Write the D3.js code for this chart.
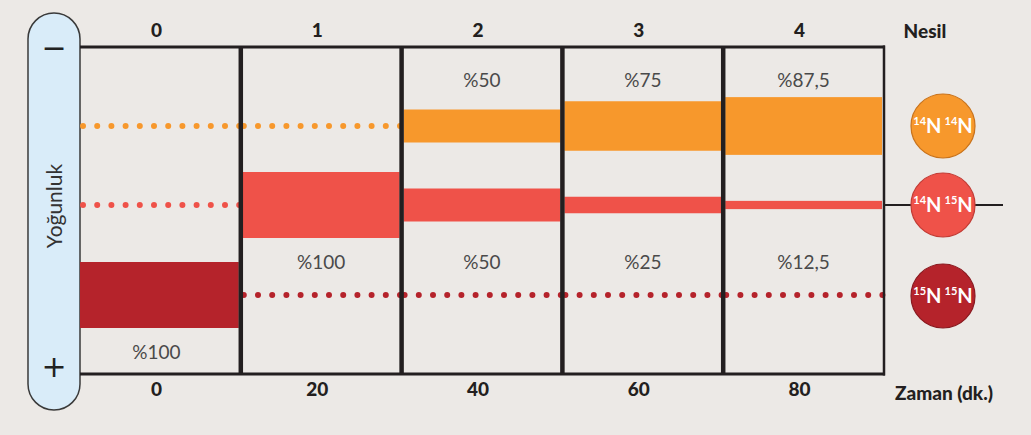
<!DOCTYPE html>
<html><head><meta charset="utf-8">
<script src="https://cdn.jsdelivr.net/npm/d3@7"></script>
<style>
html,body{margin:0;padding:0;background:#ece9e6;}
svg{display:block;}
</style></head>
<body>
<svg id="chart" width="1031" height="435"></svg>
<script>
// ---- data ----
const generations = ["0","1","2","3","4"];
const times = ["0","20","40","60","80"];
const types = ["14N14N","14N15N","15N15N"];
const light = [0, 0, 50, 75, 87.5];      // 14N 14N
const hybrid = [0, 100, 50, 25, 12.5];   // 14N 15N
const heavy = [100, 0, 0, 0, 0];         // 15N 15N
const axisTitleTop = "Nesil";
const axisTitleBottom = "Zaman (dk.)";
const yTitle = "Yoğunluk";

const colors = {"14N14N":"#f7982c","14N15N":"#ef5249","15N15N":"#b5232b"};
const strokeCol = {"14N14N":"#c8731c","14N15N":"#c23c35","15N15N":"#8a1a20"};
const series = [
  {type:"14N14N", values: light, labelOffset:-46},
  {type:"14N15N", values: hybrid, labelOffset:57},
  {type:"15N15N", values: heavy, labelOffset:57}
];

const svg = d3.select("#chart");
const pLeft = 80, pRight = 884, pTop = 47, pBottom = 374;
const font = "Lato, 'DejaVu Sans Condensed', sans-serif";

const x = d3.scaleBand().domain(generations).range([pLeft, pRight]).padding(0);
const yPos = d3.scaleOrdinal().domain(types).range([126, 205, 295]);
const h = d3.scaleLinear().domain([0, 100]).range([0, 66]);

// pill
svg.append("rect").attr("x",28).attr("y",13).attr("width",52).attr("height",397)
  .attr("rx",26).attr("ry",26).attr("fill","#d9ecf9").attr("stroke","#3a3a3a").attr("stroke-width",1.5);
svg.append("text").attr("x",54).attr("y",58).attr("text-anchor","middle")
  .attr("font-family","DejaVu Sans, sans-serif").attr("font-size",30).attr("fill","#222").text("−");
svg.append("text").attr("x",54).attr("y",377).attr("text-anchor","middle")
  .attr("font-family","DejaVu Sans, sans-serif").attr("font-size",30).attr("fill","#222").text("+");
svg.append("text").attr("transform","translate(62,206) rotate(-90)").attr("text-anchor","middle")
  .attr("font-family",font).attr("font-size",21).attr("fill","#333").text(yTitle);

// dotted guide lines where value is zero
series.forEach(s => {
  s.values.forEach((v,i) => {
    if (v === 0) {
      const g = generations[i];
      svg.append("line")
        .attr("x1", x(g) + 3).attr("x2", x(g) + x.bandwidth())
        .attr("y1", yPos(s.type)).attr("y2", yPos(s.type))
        .attr("stroke", colors[s.type]).attr("stroke-width", 6)
        .attr("stroke-linecap","round").attr("stroke-dasharray","0,14.2");
    }
  });
});

// bars
series.forEach(s => {
  const d0 = s.values.map((v,i)=>({v,g:generations[i]})).filter(d=>d.v>0);
  svg.selectAll(null).data(d0).enter().append("rect")
    .attr("x", d => x(d.g) + (d.g==="0"?0:2))
    .attr("width", d => x.bandwidth() - (d.g==="0"?2:4))
    .attr("y", d => yPos(s.type) - h(d.v)/2)
    .attr("height", d => h(d.v))
    .attr("fill", colors[s.type]);
  svg.selectAll(null).data(d0).enter().append("text")
    .attr("x", d => x(d.g) + x.bandwidth()/2 + (d.g==="0"?-4:0))
    .attr("y", yPos(s.type) + s.labelOffset + 7)
    .attr("text-anchor","middle").attr("font-family",font).attr("font-size",19).attr("fill","#4a4a4a")
    .text(d => "%" + String(d.v).replace(".", ","));
});

// frame lines
svg.append("line").attr("x1",pLeft).attr("x2",pRight+1).attr("y1",pTop).attr("y2",pTop)
  .attr("stroke","#231f20").attr("stroke-width",3);
svg.append("line").attr("x1",pLeft).attr("x2",pRight+1).attr("y1",pBottom).attr("y2",pBottom)
  .attr("stroke","#231f20").attr("stroke-width",3);
generations.slice(1).forEach(g => {
  svg.append("line").attr("x1",x(g)).attr("x2",x(g)).attr("y1",pTop).attr("y2",pBottom)
    .attr("stroke","#231f20").attr("stroke-width",4.5);
});
svg.append("line").attr("x1",pRight).attr("x2",pRight).attr("y1",pTop-1.5).attr("y2",pBottom+1.5)
  .attr("stroke","#231f20").attr("stroke-width",2.5);

// axes labels via d3 axes
const topAxis = svg.append("g").attr("transform",`translate(0,${pTop})`)
  .call(d3.axisTop(x).tickSize(0).tickPadding(10));
const xb = d3.scaleBand().domain(times).range([pLeft, pRight]);
const botAxis = svg.append("g").attr("transform",`translate(0,${pBottom})`)
  .call(d3.axisBottom(xb).tickSize(0).tickPadding(9));
[topAxis, botAxis].forEach(a => {
  a.select(".domain").remove();
  a.selectAll("text").attr("font-family",font).attr("font-size",19).attr("font-weight","900").attr("fill","#231f20");
});
topAxis.selectAll(".tick").attr("transform", d => `translate(${x(d)+x.bandwidth()/2 - 4},0)`);
botAxis.selectAll(".tick").attr("transform", d => `translate(${xb(d)+xb.bandwidth()/2 - 4},0)`);

svg.append("text").attr("x",925).attr("y",38).attr("text-anchor","middle")
  .attr("font-family",font).attr("font-size",19).attr("font-weight","900").attr("fill","#231f20").text(axisTitleTop);
svg.append("text").attr("x",944).attr("y",400).attr("text-anchor","middle")
  .attr("font-family",font).attr("font-size",19).attr("font-weight","900").attr("fill","#231f20").text(axisTitleBottom);

// legend
const cx = 943;
svg.append("line").attr("x1",pRight).attr("x2",1003).attr("y1",yPos("14N15N")).attr("y2",yPos("14N15N"))
  .attr("stroke","#231f20").attr("stroke-width",2);
const isoLabels = {"14N14N":["14","14"],"14N15N":["14","15"],"15N15N":["15","15"]};
types.forEach(t => {
  const cy = yPos(t) + (t==="15N15N" ? 1 : 0);
  svg.append("circle").attr("cx",cx).attr("cy",cy).attr("r",32)
    .attr("fill",colors[t]).attr("stroke",strokeCol[t]).attr("stroke-width",1.2);
  const txt = svg.append("text").attr("x",cx).attr("y",cy+7).attr("text-anchor","middle")
    .attr("font-family",font).attr("font-weight","bold").attr("fill","#fff");
  const [a,b] = isoLabels[t];
  txt.append("tspan").attr("font-size",11).attr("dy",-8).text(a);
  txt.append("tspan").attr("font-size",20).attr("dy",8).text("N");
  txt.append("tspan").attr("font-size",11).attr("dy",-8).attr("dx",3).text(b);
  txt.append("tspan").attr("font-size",20).attr("dy",8).text("N");
});
</script>
</body></html>
